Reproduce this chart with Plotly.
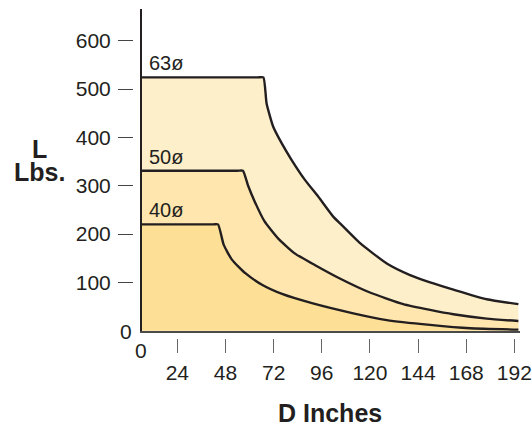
import plotly.graph_objects as go

# ---- data ----
x63 = [0, 64, 66.9, 68.5, 71.8, 76.0, 81.0, 87.6, 94.3, 101.7, 105.1, 115.1, 128.4, 140.0, 150.0, 161.6, 178.2, 194.0]
y63 = [524, 524, 524, 470, 422, 388, 353, 312, 277, 236, 222, 181, 139, 115, 100, 85, 65, 55]

x50 = [0, 54, 56.7, 59.2, 62.6, 67.5, 74.2, 82.5, 92.5, 105.0, 120.0, 136.6, 150.0, 161.6, 178.2, 194.0]
y50 = [331, 331, 331, 301, 267, 226, 191, 160, 136, 108, 79, 55, 43, 34, 25, 20]

x40 = [0, 42, 44.3, 47.1, 51.2, 57.9, 66.2, 76.2, 91.1, 111.7, 128.4, 150.0, 169.9, 194.0]
y40 = [220, 220, 220, 178, 147, 119, 95, 76, 57, 36, 22, 12, 5, 2]

series_names = ["63ø", "50ø", "40ø"]
x_ticks = [24, 48, 72, 96, 120, 144, 168, 192]
y_ticks = [100, 200, 300, 400, 500, 600]

fills = ["#FDEFCA", "#FEE6AE", "#FDDF95"]
line_col = "#231F20"
FONT = "Liberation Sans, Arial, Helvetica, sans-serif"

W, H = 532, 426


def fx(px):
    return px / W


def fy(py):
    return (H - py) / H


px_l, px_r = 142, 520
px_t, px_b = 9, 330.7

fig = go.Figure()
for xs, ys, c, n in zip([x63, x50, x40], [y63, y50, y40], fills, series_names):
    fig.add_trace(go.Scatter(x=xs, y=ys, mode="lines", fill="tozeroy", fillcolor=c,
                             line=dict(color=line_col, width=2.4, shape="spline", smoothing=0.5),
                             name=n, showlegend=False, hoverinfo="skip"))
# empty traces to bind the tick axes
fig.add_trace(go.Scatter(x=[], y=[], xaxis="x2", yaxis="y", showlegend=False))
fig.add_trace(go.Scatter(x=[], y=[], xaxis="x", yaxis="y2", showlegend=False))

xr = [6.4, 194.8]
yr = [0, 665.5]
xdom = [fx(px_l), fx(px_r)]
ydom = [fy(px_b), fy(px_t)]

TS = 21
fig.update_layout(
    width=W, height=H, autosize=False,
    margin=dict(l=0, r=0, t=0, b=0, autoexpand=False),
    paper_bgcolor="white", plot_bgcolor="rgba(0,0,0,0)",
    font=dict(family=FONT, color=line_col, size=TS),
    xaxis=dict(domain=xdom, range=xr, showgrid=False, zeroline=False, showticklabels=False,
               ticks="", showline=True, linecolor="#4a4a4a", linewidth=2, anchor="y", automargin=False),
    yaxis=dict(domain=ydom, range=yr, showgrid=False, zeroline=False, showticklabels=False,
               ticks="", showline=True, linecolor="#231F20", linewidth=1.5, anchor="x", automargin=False),
    xaxis2=dict(overlaying="x", range=xr, anchor="free", position=fy(338), side="bottom",
                showgrid=False, zeroline=False, showline=False, ticks="outside", ticklen=14,
                tickwidth=1.2, tickcolor="#666", tickvals=x_ticks, ticktext=[str(v) for v in x_ticks],
                tickfont=dict(size=TS, family=FONT, color=line_col), ticklabelstandoff=2,
                automargin=False),
    yaxis2=dict(overlaying="y", range=yr, anchor="free", position=fx(133), side="left",
                showgrid=False, zeroline=False, showline=False, ticks="outside", ticklen=15,
                tickwidth=1.2, tickcolor="#444", tickvals=y_ticks, ticktext=[str(v) for v in y_ticks],
                tickfont=dict(size=TS, family=FONT, color=line_col), ticklabelstandoff=3,
                automargin=False),
)

ann = []
# corner zeros
ann.append(dict(text="0", x=fx(126), y=fy(331), xref="paper", yref="paper",
                xanchor="center", yanchor="middle", showarrow=False, font=dict(size=TS)))
ann.append(dict(text="0", x=fx(141.3), y=fy(350), xref="paper", yref="paper",
                xanchor="center", yanchor="middle", showarrow=False, font=dict(size=TS)))
# diameter labels
for n, ys in zip(series_names, [y63, y50, y40]):
    ann.append(dict(text=n, x=fx(147), y=ys[0], xref="paper", yref="y", xanchor="left",
                    yanchor="bottom", yshift=1, showarrow=False, font=dict(size=20)))
# axis titles
ann.append(dict(text="<b>D Inches</b>", x=fx(329.5), y=fy(413), xref="paper", yref="paper",
                xanchor="center", yanchor="middle", showarrow=False, font=dict(size=25)))
ann.append(dict(text="<b>L</b>", x=fx(39), y=fy(148.5), xref="paper", yref="paper",
                xanchor="center", yanchor="middle", showarrow=False, font=dict(size=25)))
ann.append(dict(text="<b>Lbs.</b>", x=fx(39), y=fy(172), xref="paper", yref="paper",
                xanchor="center", yanchor="middle", showarrow=False, font=dict(size=25)))
fig.update_layout(annotations=ann)

fig.write_html(
    "out.html",
    config={"displayModeBar": False},
    post_script="document.body.style.margin='0';document.documentElement.style.overflow='hidden';document.body.style.overflow='hidden';",
)
